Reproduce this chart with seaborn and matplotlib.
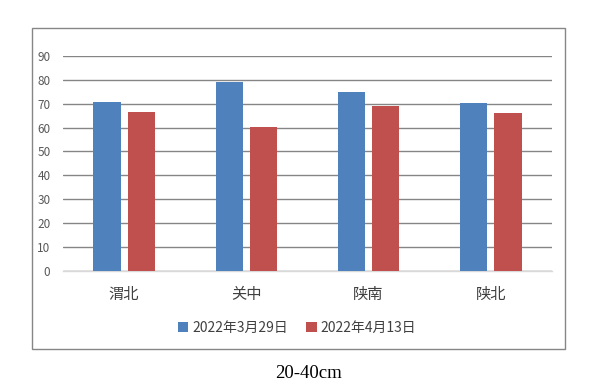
import numpy as np
import pandas as pd
import matplotlib
matplotlib.use("Agg")
import matplotlib.pyplot as plt
import seaborn as sns
from matplotlib.patches import Rectangle

## data
regions = ["渭北", "关中", "陕南", "陕北"]
series_names = ["2022年3月29日", "2022年4月13日"]
vals_0329 = [70.7, 79.1, 74.9, 70.3]
vals_0413 = [66.7, 60.2, 69.1, 66.2]
y_ticks = [0, 10, 20, 30, 40, 50, 60, 70, 80, 90]
title = "20-40cm"

df = pd.DataFrame({
    "region": regions * 2,
    "date": [series_names[0]] * 4 + [series_names[1]] * 4,
    "value": vals_0329 + vals_0413,
})

sns.set_theme(style="white")
plt.rcParams['font.family'] = ['Noto Sans CJK SC', 'DejaVu Sans']

fig = plt.figure(figsize=(6.06, 3.92), dpi=100)
ax = fig.add_axes([63 / 606, 121.3 / 392, 489 / 606, 214.7 / 392])

sns.barplot(data=df, x="region", y="value", hue="date", order=regions,
            hue_order=series_names, palette=["#4F81BD", "#C0504D"],
            width=0.56, gap=0.2, saturation=1, linewidth=0, ax=ax, legend=True)

ax.set_ylim(0, 90)
ax.set_xlim(-0.5, 3.5)
ax.set_yticks(y_ticks)
ax.set_yticklabels([str(t) for t in y_ticks], fontsize=8.5, color="#595959")
ax.tick_params(axis="y", length=0, pad=9)
ax.tick_params(axis="x", length=0, pad=11, labelsize=11, labelcolor="#404040")
ax.set_xlabel("")
ax.set_ylabel("")
ax.grid(axis="y", color="#868686", linewidth=1)
ax.set_axisbelow(True)
for s in ["left", "right", "top"]:
    ax.spines[s].set_visible(False)
ax.spines["bottom"].set_color("#d9d9d9")
ax.spines["bottom"].set_linewidth(1)
ax.spines["bottom"].set_zorder(0.5)

handles, labels = ax.get_legend_handles_labels()
ax.legend(handles, labels, loc="center", bbox_to_anchor=(297 / 606, 1 - 328 / 392),
          bbox_transform=fig.transFigure, ncol=2, frameon=False, fontsize=10,
          handlelength=0.75, handleheight=0.75, handletextpad=0.3, columnspacing=1.3,
          labelcolor="#404040")

# outer chart frame
fig.patches.append(Rectangle((32.3 / 606, 42.7 / 392), 533 / 606, 321 / 392,
                             transform=fig.transFigure, fill=False,
                             edgecolor="#868686", linewidth=1.0))

fig.text(308 / 606, 1 - 373 / 392, title, ha="center", va="center",
         fontsize=13.5, family="Liberation Serif", color="black")

fig.savefig("out.png", dpi=100)
